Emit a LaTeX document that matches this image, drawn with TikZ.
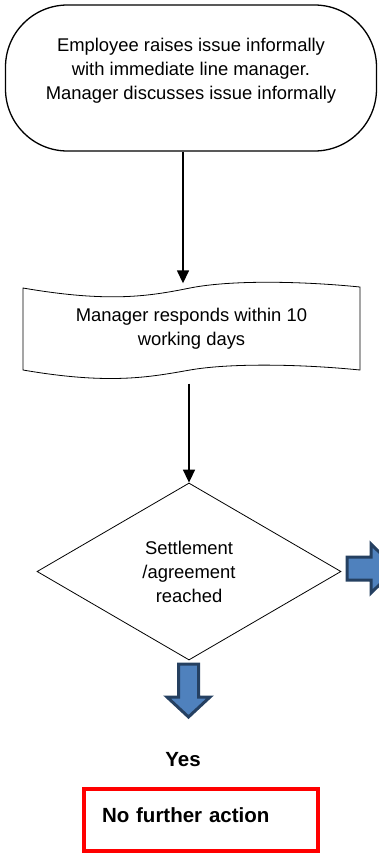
\documentclass[tikz,border=0pt]{standalone}
\usepackage{fontspec}
\setmainfont{Liberation Sans}
\usetikzlibrary{arrows.meta, positioning, shapes.geometric}

\definecolor{arrowfill}{RGB}{79,129,189}
\definecolor{arrowedge}{RGB}{37,64,97}

\begin{document}
\begin{tikzpicture}[x=1pt, y=-1pt,
  terminal/.style={rectangle, draw, rounded corners=62pt, line width=1.3pt,
    minimum width=371pt, minimum height=146pt, align=center,
    font=\fontsize{18.4}{24}\selectfont, text depth=19pt},
  docbox/.style={rectangle, minimum width=337pt, minimum height=83pt,
    align=center, font=\fontsize{18.4}{24}\selectfont},
  decision/.style={diamond, draw, line width=0.8pt, minimum width=304pt,
    minimum height=177pt, inner sep=0pt, align=center,
    font=\fontsize{18.4}{24}\selectfont},
  outcome/.style={rectangle, draw=red, line width=4pt, minimum width=234pt,
    minimum height=62pt, text width=198pt, inner xsep=18pt, align=left,
    text depth=10pt, font=\bfseries\fontsize{20.5}{24}\selectfont},
  arrow/.style={-{Triangle[length=13pt,width=12pt]}, line width=1.5pt},
  blockarrow/.style={fill=arrowfill, draw=arrowedge, line width=3pt, line join=miter}
]
\useasboundingbox (0,0) rectangle (379,855);

\node[terminal] (start) at (191,78) {Employee raises issue informally\\with immediate line manager.\\Manager discusses issue informally};
\node[docbox] (doc) at (191.5,329) {Manager responds within 10\\working days};
\node[decision] (dec) at (189,571.5) {Settlement\\/agreement\\reached};
\node[font=\bfseries\fontsize{20.5}{24}\selectfont] (yes) at (183,760) {Yes};
\node[outcome] (nfa) at (201,820) {No further action};

\draw[line width=0.8pt] (23,288) .. controls (110,303) and (150,296) .. (190,288)
  .. controls (230,280) and (300,281) .. (360,287) -- (360,370)
  .. controls (300,364) and (230,363) .. (190,370)
  .. controls (150,377) and (110,385) .. (23,370) -- cycle;

\draw[arrow, shorten >=4pt] ([xshift=-8pt]start.south) -- ([xshift=-8pt]start.south |- doc.north);
\draw[arrow, shorten <=13pt] (dec.north |- doc.south) -- (dec.north);

\draw[blockarrow] (347,557) -- (371,557) -- (371,544) -- (396,568.5) -- (371,593) -- (371,580) -- (347,580) -- cycle;
\draw[blockarrow] (178.5,664) -- (198.5,664) -- (198.5,697) -- (210,697) -- (188.5,717) -- (167,697) -- (178.5,697) -- cycle;
\end{tikzpicture}
\end{document}
